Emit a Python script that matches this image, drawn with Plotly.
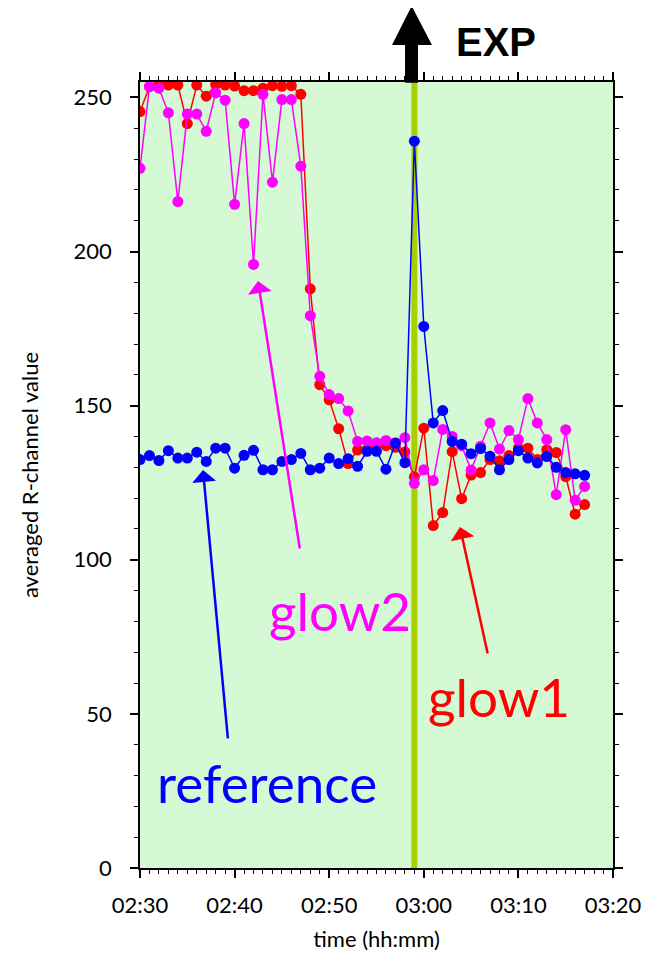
import plotly.graph_objects as go

# ---- data ----
times = ["02:30", "02:31", "02:32", "02:33", "02:34", "02:35", "02:36", "02:37",
         "02:38", "02:39", "02:40", "02:41", "02:42", "02:43", "02:44", "02:45",
         "02:46", "02:47", "02:48", "02:49", "02:50", "02:51", "02:52", "02:53",
         "02:54", "02:55", "02:56", "02:57", "02:58", "02:59", "03:00", "03:01",
         "03:02", "03:03", "03:04", "03:05", "03:06", "03:07", "03:08", "03:09",
         "03:10", "03:11", "03:12", "03:13", "03:14", "03:15", "03:16", "03:17"]

reference = [132.5, 133.8, 132.2, 135.4, 133.0, 133.0, 134.9, 131.9,
             136.2, 136.2, 129.7, 133.9, 135.5, 129.2, 129.2, 131.9,
             132.5, 134.5, 129.2, 129.7, 133.0, 131.2, 132.8, 130.3,
             135.2, 135.2, 129.4, 137.8, 131.5, 235.8, 175.7, 144.4,
             148.4, 138.4, 137.5, 134.4, 136.1, 133.6, 129.2, 132.5,
             135.4, 133.0, 131.4, 133.5, 130.0, 128.3, 127.9, 127.4]

glow1 = [245.4, 253.5, 254.0, 254.0, 254.0, 241.5, 254.0, 250.4,
         254.2, 254.0, 253.7, 252.2, 252.2, 253.0, 253.8, 253.6,
         253.8, 251.0, 187.9, 156.8, 151.9, 142.5, 131.2, 135.6,
         135.7, 137.3, 137.0, 136.5, 135.0, 126.9, 142.7, 111.1,
         115.3, 135.1, 119.8, 127.5, 128.3, 132.5, 132.1, 133.8,
         136.2, 136.2, 132.5, 135.7, 134.8, 127.0, 114.8, 117.9]

glow2 = [227.0, 253.5, 253.0, 245.0, 216.2, 244.6, 244.6, 239.0,
         251.5, 249.1, 215.3, 241.5, 195.8, 251.0, 222.5, 249.3,
         249.3, 227.7, 179.2, 159.5, 153.6, 152.3, 148.3, 138.4,
         138.5, 138.0, 138.7, 138.0, 139.6, 124.8, 129.2, 125.7,
         142.3, 140.0, 137.0, 129.1, 136.8, 144.4, 135.9, 141.9,
         139.0, 152.3, 144.4, 139.0, 121.1, 142.2, 119.3, 123.8]

exp_time = "02:59"
x_range = ["02:30", "03:20"]
y_range = [0, 255]

DAY = "2024-01-01 "
x = [DAY + t for t in times]

fig = go.Figure()

for name, vals, col in [("glow1", glow1, "#ff0000"),
                        ("glow2", glow2, "#ff00ff"),
                        ("reference", reference, "#0000ff")]:
    fig.add_trace(go.Scatter(
        x=x, y=vals, name=name, mode="lines+markers",
        line=dict(color=col, width=1.5),
        marker=dict(color=col, size=11),
        showlegend=False))

# EXP vertical band
fig.add_shape(type="line", xref="x", yref="y",
              x0=DAY + exp_time, x1=DAY + exp_time, y0=0, y1=255,
              line=dict(color="#a8d000", width=6), layer="below")

# black arrow above the plot
fig.add_shape(type="path", xref="paper", yref="paper",
              path=("M 0.5603 0.999 L 0.5603 1.0471 L 0.5328 1.0471 "
                    "L 0.5744 1.0967 L 0.6173 1.0471 L 0.5877 1.0471 "
                    "L 0.5877 0.999 Z"),
              fillcolor="black", line=dict(color="black", width=0))

FONT = "Lato, 'Open Sans', sans-serif"

annotations = [
    dict(text="<b>EXP</b>", x=0.7526, y=1.0509, xref="paper", yref="paper",
         showarrow=False, font=dict(family="Liberation Sans, Arial", size=40, color="black"),
         xanchor="center", yanchor="middle"),
    dict(text="glow2", x=0.4228, y=0.3282, xref="paper", yref="paper",
         showarrow=False, font=dict(family=FONT, size=53, color="#ff00ff"),
         xanchor="center", yanchor="middle"),
    dict(text="glow1", x=0.759, y=0.2176, xref="paper", yref="paper",
         showarrow=False, font=dict(family=FONT, size=53, color="#ff0000"),
         xanchor="center", yanchor="middle"),
    dict(text="reference", x=0.2685, y=0.1094, xref="paper", yref="paper",
         showarrow=False, font=dict(family=FONT, size=53, color="#0000ff"),
         xanchor="center", yanchor="middle"),
    # arrows
    dict(text="", x=0.2495, y=0.7468, xref="paper", yref="paper",
         showarrow=True, ax=42, ay=269, arrowhead=1, arrowsize=1.6,
         arrowwidth=2.5, arrowcolor="#ff00ff"),
    dict(text="", x=0.6765, y=0.4338, xref="paper", yref="paper",
         showarrow=True, ax=28, ay=128, arrowhead=1, arrowsize=1.6,
         arrowwidth=2.5, arrowcolor="#ff0000"),
    dict(text="", x=0.1332, y=0.5064, xref="paper", yref="paper",
         showarrow=True, ax=25, ay=270, arrowhead=1, arrowsize=1.6,
         arrowwidth=2.5, arrowcolor="#0000ff"),
]

# page body has an 8px margin: shrink figure so plot area lands at 140..613 x 82..868
fig.update_layout(
    width=655, height=948,
    margin=dict(l=132, r=50, t=74, b=88),
    paper_bgcolor="white",
    plot_bgcolor="#d4f9d4",
    font=dict(family=FONT, size=22, color="black"),
    annotations=annotations,
)

fig.update_xaxes(
    type="date", range=[DAY + x_range[0], DAY + x_range[1]],
    tickformat="%H:%M", tick0=DAY + "02:30", dtick=600000,
    ticks="outside", ticklen=8, tickwidth=1.5, tickcolor="black",
    minor=dict(dtick=60000, ticks="outside", ticklen=4, tickwidth=1, tickcolor="black"),
    showline=True, linecolor="black", linewidth=1.5, mirror="allticks",
    showgrid=False, zeroline=False, automargin=False,
    ticklabelstandoff=9,
    title=dict(text="time (hh:mm)", font=dict(size=22), standoff=14),
)
fig.update_yaxes(
    range=y_range, dtick=50, tick0=0,
    ticks="outside", ticklen=8, tickwidth=1.5, tickcolor="black",
    minor=dict(dtick=10, ticks="outside", ticklen=4, tickwidth=1, tickcolor="black"),
    showline=True, linecolor="black", linewidth=1.5, mirror="allticks",
    showgrid=False, zeroline=False, automargin=False,
    ticklabelstandoff=14,
    title=dict(text="averaged R-channel value", font=dict(size=22), standoff=29),
)

fig.write_html("out.html")
